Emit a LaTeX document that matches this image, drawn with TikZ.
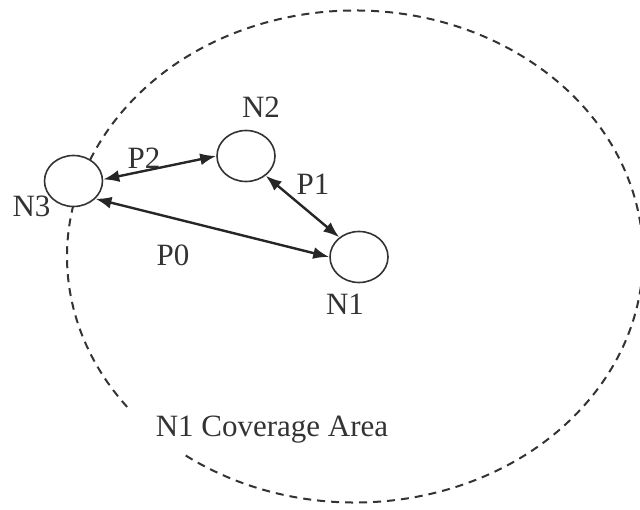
\documentclass[tikz,border=0pt]{standalone}
\usepackage{fontspec}
\setmainfont{Liberation Serif}
\usetikzlibrary{arrows.meta,shapes.geometric}
\begin{document}
\begin{tikzpicture}[x=1pt,y=1pt,
  nodecirc/.style={draw=black!80, line width=1.6pt, fill=white, ellipse-shape},
  ellipse-shape/.style={shape=ellipse, minimum width=58pt, minimum height=51pt, inner sep=0pt},
  lbl/.style={text=black!80, font=\fontsize{31}{32}\selectfont, inner sep=0pt},
  link/.style={line width=2.4pt, draw=black!85, {Latex[length=16pt,width=12pt]}-{Latex[length=16pt,width=12pt]}},
  cover/.style={draw=black!80, line width=2pt, dash pattern=on 8pt off 6pt}
]
\useasboundingbox (0,0) rectangle (640,509);
% coverage area (pixel y flipped: Y = 509 - y)
\draw[cover] (355,252.5) ++(234:288 and 246) arc[start angle=234, end angle=579, x radius=288, y radius=246];
% nodes
\node[nodecirc] (N3) at (73.5,328) {};
\node[nodecirc] (N2) at (246,353) {};
\node[nodecirc] (N1) at (359,252) {};
% labels
\node[lbl] (lN2) at (261,402) {N2};
\node[lbl] (lN3) at (31.5,303) {N3};
\node[lbl] (lN1) at (345,205) {N1};
\node[lbl] (lP0) at (173,254) {P0};
\node[lbl] (lP1) at (313,325) {P1};
\node[lbl] (lP2) at (144,351) {P2};
\node[lbl] (lcov) at (272,79) {N1 Coverage Area};
% links
\draw[link] (N3.3) -- (N2.west);
\draw[link] (N2.-45) -- (N1.135);
\draw[link] (N3.-39) -- (N1.west);
\end{tikzpicture}
\end{document}
